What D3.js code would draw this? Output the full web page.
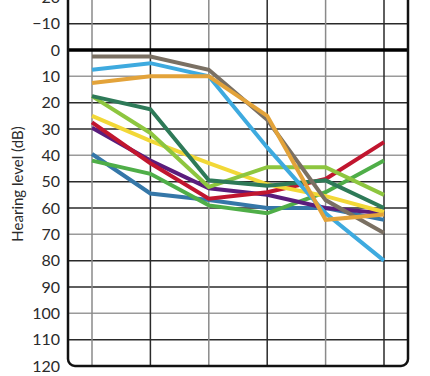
<!DOCTYPE html>
<html>
<head>
<meta charset="utf-8">
<script src="https://cdn.jsdelivr.net/npm/d3@7"></script>
<style>
  body { margin: 0; background: #fff; }
  svg { display: block; }
</style>
</head>
<body>
<div id="chart"></div>
<script>
// frequencies (not labelled in the picture)
var freqs = ["250", "500", "1000", "2000", "4000", "8000"]
var yTicks = [-20, -10, 0, 10, 20, 30, 40, 50, 60, 70, 80, 90, 100, 110, 120]

var taupe      = [2.5, 2.5, 7.5, 26.5, 57, 69.5]
var lightBlue  = [7.5, 5, 10, 37, 62, 80]
var orange     = [12.5, 10, 10, 25, 64.5, 62.5]
var darkGreen  = [17.5, 22.5, 49.5, 51.5, 49.5, 60]
var lightGreen = [17.5, 31.5, 52, 44.5, 44.5, 55]
var yellow     = [25, 34.5, 43, 51, 55.5, 61.5]
var red        = [27.5, 43, 56.5, 54, 49, 35]
var purple     = [29.5, 42, 52.5, 55, 60, 62]
var steelBlue  = [39.5, 54.5, 57, 60, 60, 64.5]
var midGreen   = [42, 47, 59, 62, 54, 42]

var seriesList = [
  {name: "steelBlue", values: steelBlue, color: "#3577a8"},
  {name: "midGreen", values: midGreen, color: "#4fae48"},
  {name: "purple", values: purple, color: "#5a1d7c"},
  {name: "red", values: red, color: "#c1162f"},
  {name: "yellow", values: yellow, color: "#f2d837"},
  {name: "lightGreen", values: lightGreen, color: "#8dc63f"},
  {name: "darkGreen", values: darkGreen, color: "#2e7a58"},
  {name: "lightBlue", values: lightBlue, color: "#3eaadf"},
  {name: "taupe", values: taupe, color: "#7a7063"},
  {name: "orange", values: orange, color: "#e3a33a"}
]

var width = 430, height = 376
var left = 68, right = 408, bottom = 366

var svg = d3.select("#chart").append("svg")
    .attr("width", width)
    .attr("height", height)

var x = d3.scalePoint().domain(freqs).range([92, 384])
var y = d3.scaleLinear().domain([0, 120]).range([50, bottom])

// horizontal grid
svg.append("g")
  .selectAll("line")
  .data(yTicks.filter(d => d != 0 && d != 120))
  .join("line")
    .attr("x1", left).attr("x2", right)
    .attr("y1", d => y(d)).attr("y2", d => y(d))
    .attr("stroke", d => ((d - 10) % 30 == 0) ? "#9a9a9a" : "#2a2a2a")
    .attr("stroke-width", 1.5)

// vertical grid
svg.append("g")
  .selectAll("line")
  .data(freqs)
  .join("line")
    .attr("x1", d => x(d)).attr("x2", d => x(d))
    .attr("y1", y(-25)).attr("y2", bottom)
    .attr("stroke", (d, i) => i % 2 == 0 ? "#8a8a8a" : "#2a2a2a")
    .attr("stroke-width", 1.5)

// zero line
svg.append("line")
    .attr("x1", left).attr("x2", right)
    .attr("y1", y(0)).attr("y2", y(0))
    .attr("stroke", "#000")
    .attr("stroke-width", 3.5)

// frame with rounded corners
svg.append("rect")
    .attr("x", left).attr("y", y(-30))
    .attr("width", right - left)
    .attr("height", bottom - y(-30))
    .attr("rx", 7)
    .attr("fill", "none")
    .attr("stroke", "#111")
    .attr("stroke-width", 2.5)

// y tick labels
svg.append("g")
  .selectAll("text")
  .data(yTicks)
  .join("text")
    .attr("x", 60)
    .attr("y", d => y(d))
    .attr("dy", "0.36em")
    .attr("text-anchor", "end")
    .attr("font-family", "Lato, sans-serif")
    .attr("font-size", "16px")
    .attr("fill", "#2b2b2b")
    .text(d => d < 0 ? "\u2212" + Math.abs(d) : d)

svg.append("text")
    .attr("transform", "translate(23," + 184 + ") rotate(-90)")
    .attr("text-anchor", "middle")
    .attr("font-family", "Lato, sans-serif")
    .attr("font-size", "15px")
    .attr("fill", "#2b2b2b")
    .text("Hearing level (dB)")

var line = d3.line()
    .x((d, i) => x(freqs[i]))
    .y(d => y(d))

svg.append("g")
  .selectAll("path")
  .data(seriesList)
  .join("path")
    .attr("d", d => line(d.values))
    .attr("fill", "none")
    .attr("stroke", d => d.color)
    .attr("stroke-width", 4)
    .attr("stroke-linejoin", "miter")
</script>
</body>
</html>
